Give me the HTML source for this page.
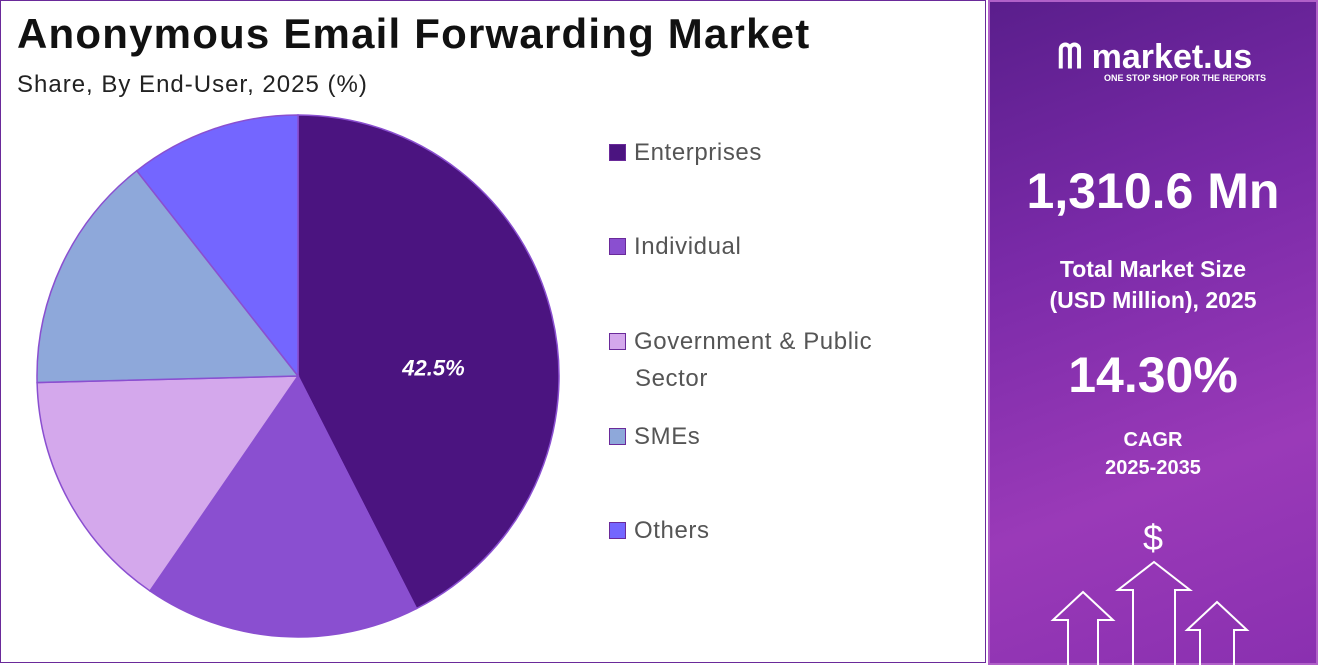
<!DOCTYPE html>
<html><head><meta charset="utf-8"><style>
body{margin:0;width:1318px;height:665px;overflow:hidden;background:#fff;font-family:"Liberation Sans",sans-serif;}
#left{position:absolute;left:0;top:0;width:986px;height:663px;border:1px solid #6a2a9a;box-sizing:border-box;}
#right{position:absolute;left:988px;top:0;width:330px;height:665px;box-sizing:border-box;border:2px solid #b060c8;background:linear-gradient(160deg,#5a1e8c 0%,#7a2aa8 35%,#9a3ab8 70%,#8a30b0 100%);color:#fff;text-align:center;}
h1{position:absolute;left:16px;top:9px;margin:0;font-size:42px;font-weight:bold;color:#111;letter-spacing:1.2px}
.sub{position:absolute;left:16px;top:70px;font-size:24px;color:#222;letter-spacing:1px}
.leg{position:absolute;left:608px;font-size:24px;color:#555;line-height:37px;letter-spacing:0.6px}
.sw{display:inline-block;width:17px;height:17px;border:1px solid #6a2a9a;box-sizing:border-box;margin-right:8px;vertical-align:-1px}
</style></head><body>
<div id="left">
<h1>Anonymous Email Forwarding Market</h1>
<div class="sub">Share, By End-User, 2025 (%)</div>
<svg id="pie" width="600" height="663" style="position:absolute;left:0;top:0"></svg>
<div class="leg" style="top:133px"><span class="sw" style="background:#4b1480"></span>Enterprises</div>
<div class="leg" style="top:227px"><span class="sw" style="background:#8a4fd0"></span>Individual</div>
<div class="leg" style="top:322px"><span class="sw" style="background:#d4a8ec"></span>Government &amp; Public<br><span style="margin-left:26px">Sector</span></div>
<div class="leg" style="top:417px"><span class="sw" style="background:#8ea8da"></span>SMEs</div>
<div class="leg" style="top:511px"><span class="sw" style="background:#7466ff"></span>Others</div>
</div>
<div id="right">
<div style="position:absolute;top:36px;left:20px;width:290px;font-size:34px;font-weight:bold">ᗰ market.us<div style="font-size:9px;margin-left:60px;margin-top:-4px">ONE STOP SHOP FOR THE REPORTS</div></div>
<div style="position:absolute;top:160px;width:100%;font-size:50px;font-weight:bold">1,310.6 Mn</div>
<div style="position:absolute;top:252px;width:100%;font-size:23px;font-weight:bold;line-height:31px">Total Market Size<br>(USD Million), 2025</div>
<div style="position:absolute;top:344px;width:100%;font-size:50px;font-weight:bold">14.30%</div>
<div style="position:absolute;top:424px;width:100%;font-size:20px;font-weight:bold;line-height:28px">CAGR<br>2025-2035</div>
<div style="position:absolute;top:515px;width:100%;font-size:36px">$</div>
<svg width="330" height="110" style="position:absolute;left:0;top:558px" fill="none" stroke="#fff" stroke-width="2">
<path d="M78 110V60H63L93 32L123 60H108V110"/><path d="M143 110V30H128L164 2L200 30H185V110"/><path d="M210 110V70H197L227 42L257 70H244V110"/></svg>
</div>
<script>
const categories=["Enterprises","Individual","Government & Public Sector","SMEs","Others"];
const shares=[42.5,17.1,15.0,14.8,10.6];
const colors=["#4b1480","#8a4fd0","#d4a8ec","#8ea8da","#7466ff"];
const svg=document.getElementById('pie');const NS="http://www.w3.org/2000/svg";
const cx=297,cy=375,r=261;const tot=shares.reduce((a,b)=>a+b,0);let a0=0;
function pt(a){return [cx+r*Math.sin(a),cy-r*Math.cos(a)];}
shares.forEach((v,i)=>{const a1=a0+v/tot*2*Math.PI;const p0=pt(a0),p1=pt(a1);
const p=document.createElementNS(NS,'path');
p.setAttribute('d',`M${cx},${cy}L${p0[0]},${p0[1]}A${r},${r} 0 ${a1-a0>Math.PI?1:0} 1 ${p1[0]},${p1[1]}Z`);
p.setAttribute('fill',colors[i]);p.setAttribute('stroke','#8a4fd0');p.setAttribute('stroke-width','1.5');


svg.appendChild(p);a0=a1;});
const a=(shares[0]/tot)*Math.PI*1.13;const t=document.createElementNS(NS,'text');
t.setAttribute('x',cx+r*0.52*Math.sin(a));t.setAttribute('y',cy-r*0.52*Math.cos(a)+8);
t.setAttribute('text-anchor','middle');t.setAttribute('fill','#fff');t.setAttribute('font-size','22');
t.setAttribute('font-weight','bold');t.setAttribute('font-style','italic');t.textContent=shares[0]+'%';


svg.appendChild(t);
</script>
</body></html>
